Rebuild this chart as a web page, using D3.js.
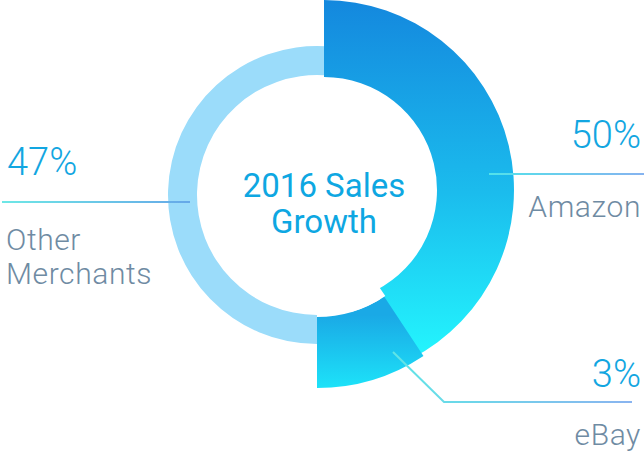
<!DOCTYPE html>
<html>
<head>
<meta charset="utf-8">
<script src="https://cdn.jsdelivr.net/npm/d3@7"></script>
<style>
  html, body { margin: 0; padding: 0; background: #fff; }
  svg { display: block; font-family: Roboto, "Noto Sans", sans-serif; }
</style>
</head>
<body>
<svg id="chart" width="644" height="454"></svg>
<script>
// ---- data ----
const categories = ["Amazon", "eBay", "Other Merchants"];
const percentLabels = [50, 3, 47];            // values printed on the labels
const arcShare = [40.7, 9.3, 50];             // share of the circle each segment occupies in the drawing
const title = ["2016 Sales", "Growth"];

// ---- layout (not data) ----
const svg = d3.select("#chart");
const defs = svg.append("defs");

const geom = {
  "Amazon":          { cx: 324, cy: 190, r0: 113, r1: 190, extraEnd: 0.11 },
  "eBay":            { cx: 317, cy: 195, r0: 122, r1: 193, extraEnd: 0 },
  "Other Merchants": { cx: 317, cy: 195, r0: 120, r1: 149, extraEnd: 0.06 }
};

function linGrad(id, x1, y1, x2, y2, stops) {
  const g = defs.append("linearGradient").attr("id", id)
    .attr("gradientUnits", "userSpaceOnUse")
    .attr("x1", x1).attr("y1", y1).attr("x2", x2).attr("y2", y2);
  stops.forEach(s => g.append("stop").attr("offset", s[0]).attr("stop-color", s[1]));
}
linGrad("gAmazon", 0, 0, 0, 350, [[0, "#1488de"], [0.55, "#1bbced"], [1, "#23f3fd"]]);
linGrad("gEbay", 0, 315, 0, 390, [[0, "#1aa9e6"], [1, "#1de4f9"]]);
linGrad("gLineR", 480, 0, 644, 0, [[0, "#4fe5ea"], [1, "#86b3f0"]]);
linGrad("gLineL", 0, 0, 190, 0, [[0, "#6ee8e6"], [1, "#66a8e8"]]);
linGrad("gLineE", 390, 0, 632, 0, [[0, "#5fe6e6"], [1, "#8ab4f0"]]);

const fills = {
  "Amazon": "url(#gAmazon)",
  "eBay": "url(#gEbay)",
  "Other Merchants": "#9bdcfa"
};

const pie = d3.pie().sort(null).value(d => d.share);
const arcsData = pie(categories.map((c, i) => ({ name: c, share: arcShare[i], pct: percentLabels[i] })));

// arc path expressed in page coordinates (keeps gradients in page space)
function arcAt(g, startAngle, endAngle, r0, r1) {
  const path = d3.path();
  const ctx = {
    moveTo: (x, y) => path.moveTo(x + g.cx, y + g.cy),
    lineTo: (x, y) => path.lineTo(x + g.cx, y + g.cy),
    arc: (x, y, r, a0, a1, ccw) => path.arc(x + g.cx, y + g.cy, r, a0, a1, ccw),
    closePath: () => path.closePath()
  };
  d3.arc().innerRadius(r0).outerRadius(r1).context(ctx)({ startAngle, endAngle });
  return path.toString();
}

const order = ["Other Merchants", "Amazon", "eBay"];
order.forEach(name => {
  const a = arcsData.find(d => d.data.name === name);
  const g = geom[name];
  svg.append("path")
    .attr("d", arcAt(g, a.startAngle, a.endAngle + g.extraEnd, g.r0, g.r1))
    .attr("fill", fills[name]);
});
// keep the hole clean where the Amazon tail slips under eBay
{
  const e = arcsData.find(d => d.data.name === "eBay");
  const g = geom["eBay"];
  svg.append("path")
    .attr("d", arcAt(g, e.startAngle - 0.01, e.startAngle + 0.3, 95, g.r0))
    .attr("fill", "#fff");
}

// ---- leader lines ----
svg.append("line").attr("x1", 489).attr("y1", 174).attr("x2", 644).attr("y2", 174)
  .attr("stroke", "url(#gLineR)").attr("stroke-width", 2);
svg.append("line").attr("x1", 2).attr("y1", 202).attr("x2", 190).attr("y2", 202)
  .attr("stroke", "url(#gLineL)").attr("stroke-width", 2);
svg.append("polyline").attr("points", "393,352 444,402 632,402")
  .attr("fill", "none").attr("stroke", "url(#gLineE)").attr("stroke-width", 2);

// ---- labels ----
const pctColor = "#12a6e1", nameColor = "#6f8ba3";
function txt(x, y, s, size, color, anchor, weight, spacing) {
  svg.append("text").attr("x", x).attr("y", y).text(s)
    .attr("font-size", size).attr("fill", color)
    .attr("text-anchor", anchor).attr("font-weight", weight || 300)
    .attr("letter-spacing", spacing || 0);
}
const byName = n => arcsData.find(d => d.data.name === n).data;

txt(641, 148, byName("Amazon").pct + "%", 38, pctColor, "end");
txt(641, 217, "Amazon", 30, nameColor, "end", 300, 0.6);

txt(7, 175, byName("Other Merchants").pct + "%", 38, pctColor, "start");
txt(6, 250, "Other", 30, nameColor, "start", 300, 0.6);
txt(6, 284, "Merchants", 30, nameColor, "start", 300, 0.6);

txt(641, 387, byName("eBay").pct + "%", 38, pctColor, "end");
txt(641, 445, "eBay", 30, nameColor, "end", 300, 0.6);

txt(324, 197, title[0], 33, "#0ea7e2", "middle", 400);
txt(324, 233, title[1], 33, "#0ea7e2", "middle", 400);
</script>
</body>
</html>
